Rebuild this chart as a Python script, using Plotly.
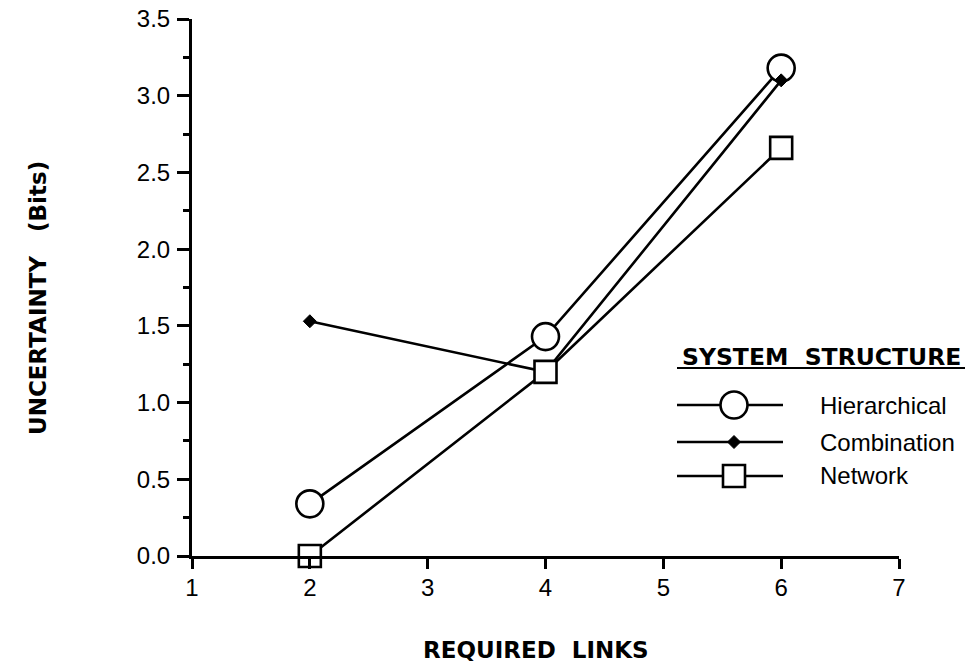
import plotly.graph_objects as go

# Data
required_links = [2, 4, 6]
hierarchical = [0.34, 1.43, 3.18]
combination = [1.53, 1.20, 3.10]
network = [0.00, 1.20, 2.66]
series_names = ["Hierarchical", "Combination", "Network"]
x_ticks = [1, 2, 3, 4, 5, 6, 7]
y_ticks = [0.0, 0.5, 1.0, 1.5, 2.0, 2.5, 3.0, 3.5]

W, H = 971, 665
ML, MR, MT, MB = 192, 72, 19, 109
PW, PH = W - ML - MR, H - MT - MB


def px(xp):
    return (xp - ML) / PW


def py(yp):
    return (H - MB - yp) / PH


FONT = "Liberation Sans"
BOLD_FONT = "DejaVu Sans"
LW = 2.6

styles = {
    "Hierarchical": dict(symbol="circle", size=27, color="white", line=dict(color="black", width=LW)),
    "Combination": dict(symbol="diamond", size=10, color="black", line=dict(color="black", width=1)),
    "Network": dict(symbol="square", size=22, color="white", line=dict(color="black", width=LW)),
}
values = {"Hierarchical": hierarchical, "Combination": combination, "Network": network}

fig = go.Figure()
for name in series_names:
    fig.add_trace(go.Scatter(
        x=required_links, y=values[name], mode="lines+markers", name=name,
        line=dict(color="black", width=LW), marker=styles[name],
        cliponaxis=False, showlegend=False,
    ))

# Hand-drawn legend block on an overlay axis in paper-like units
legend_rows = [(405, "Hierarchical"), (442, "Combination"), (476, "Network")]
for ypix, name in legend_rows:
    yy = py(ypix)
    fig.add_trace(go.Scatter(
        x=[px(677), px(783)], y=[yy, yy], mode="lines",
        line=dict(color="black", width=LW), xaxis="x2", yaxis="y2",
        showlegend=False, cliponaxis=False, hoverinfo="skip",
    ))
    fig.add_trace(go.Scatter(
        x=[px(734)], y=[yy], mode="markers", marker=styles[name],
        xaxis="x2", yaxis="y2", showlegend=False, cliponaxis=False, hoverinfo="skip",
    ))
    fig.add_annotation(
        x=px(818), y=yy, xref="paper", yref="paper", text=name, showarrow=False,
        xanchor="left", yanchor="middle", font=dict(family=FONT, size=24, color="black"),
    )

fig.add_annotation(
    x=px(821), y=py(357), xref="paper", yref="paper", text="<b>SYSTEM  STRUCTURE</b>",
    showarrow=False, xanchor="center", yanchor="middle",
    font=dict(family=BOLD_FONT, size=23.5, color="black"),
)
fig.add_shape(type="line", xref="paper", yref="paper", x0=px(677), x1=px(965),
              y0=py(368), y1=py(368), line=dict(color="black", width=2))

# Axis titles
fig.add_annotation(
    x=px(536), y=py(650), xref="paper", yref="paper", text="<b>REQUIRED  LINKS</b>",
    showarrow=False, xanchor="center", yanchor="middle",
    font=dict(family=BOLD_FONT, size=23, color="black"),
)
fig.add_annotation(
    x=px(38), y=py(298), xref="paper", yref="paper", text="<b>UNCERTAINTY   (Bits)</b>",
    showarrow=False, xanchor="center", yanchor="middle", textangle=-90,
    font=dict(family=BOLD_FONT, size=23, color="black"),
)

fig.update_layout(
    width=W, height=H, margin=dict(l=ML, r=MR, t=MT, b=MB, autoexpand=False),
    paper_bgcolor="white", plot_bgcolor="white",
    xaxis=dict(range=[1, 7], tickvals=x_ticks, ticktext=[str(v) for v in x_ticks],
               automargin=False,
               showgrid=False, zeroline=False, showline=True, linecolor="black", linewidth=3,
               ticks="outside", ticklen=10, tickwidth=2.5, tickcolor="black",
               ticklabelstandoff=-2,
               tickfont=dict(family=FONT, size=24, color="black")),
    yaxis=dict(range=[0, 3.5], tickvals=y_ticks, ticktext=[f"{v:.1f}" for v in y_ticks],
               automargin=False,
               showgrid=False, zeroline=False, showline=True, linecolor="black", linewidth=3,
               ticks="outside", ticklen=12, tickwidth=2.5, tickcolor="black",
               ticklabelstandoff=2,
               minor=dict(dtick=0.25, ticks="outside", ticklen=6, tickwidth=2.5,
                          tickcolor="black", showgrid=False),
               tickfont=dict(family=FONT, size=24, color="black")),
    xaxis2=dict(range=[0, 1], overlaying="x", visible=False, fixedrange=True, automargin=False),
    yaxis2=dict(range=[0, 1], overlaying="y", visible=False, fixedrange=True, automargin=False),
)

fig.write_html("out.html")
